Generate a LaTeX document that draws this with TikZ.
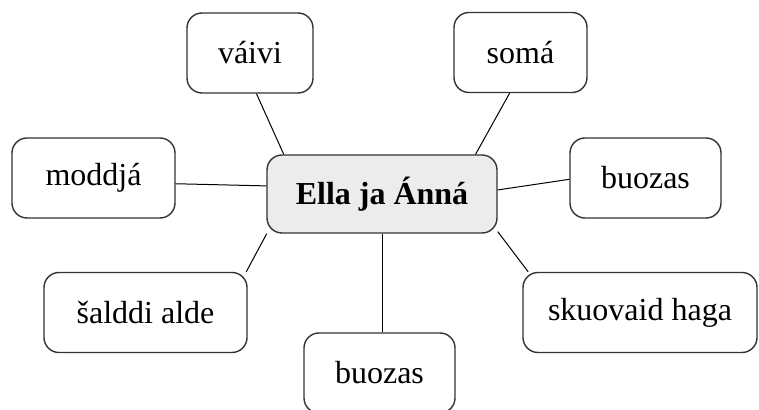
\documentclass[tikz,border=0pt]{standalone}
\usepackage{fontspec}
\setmainfont{Liberation Serif}
\usepackage{xcolor}
\usepackage{tikz}
\usetikzlibrary{positioning}

\definecolor{rootfill}{HTML}{ECECEC}
\definecolor{boxline}{HTML}{333333}

\tikzset{
  leaf/.style={shape=rectangle, draw=boxline, line width=0.7pt, rounded corners=7.5pt,
    fill=white, minimum height=40pt, inner xsep=0pt,
    font=\fontsize{16}{19}\selectfont},
  rootbox/.style={leaf, fill=rootfill, minimum height=39pt, font=\fontsize{16}{19}\selectfont\bfseries},
  wire/.style={draw=black, line width=0.5pt}
}

\begin{document}
\begin{tikzpicture}[x=0.5pt, y=-0.5pt]
			\useasboundingbox (0,0) rectangle (759,410);
			% Nodes:
			\node[rootbox, minimum width=115pt](root) at (382, 194){Ella ja Ánná};
			\node[leaf, minimum width=63pt](vaivi) at (250, 53){váivi};
			\node[leaf, minimum width=66.5pt](soma) at (520.5, 52.5){somá};
			\node[leaf, minimum width=81.5pt](moddja) at (93.5, 178){moddjá};
			\node[leaf, minimum width=75.5pt](buozasR) at (645.5, 178){buozas};
			\node[leaf, minimum width=101.5pt](salddi) at (145.5, 312.5){šalddi alde};
			\node[leaf, minimum width=117pt](skuovaid) at (640, 312.5){skuovaid haga};
			\node[leaf, minimum width=75.5pt](buozasB) at (379.5, 373){buozas};
			% Wires:
			\draw[wire] (root.158.7) -- (vaivi.279.7);
			\draw[wire] (root.23.9) -- (soma.255.1);
			\draw[wire] (root.176) -- (moddja.356.5);
			\draw[wire] (root.2.5) -- (buozasR.181.5);
			\draw[wire] (root.199.2) -- (salddi.22.7);
			\draw[wire] (root.342.6) -- (skuovaid.160.25);
			\draw[wire] (root.south) -- (root.south |- buozasB.north);
		\end{tikzpicture}
\end{document}
